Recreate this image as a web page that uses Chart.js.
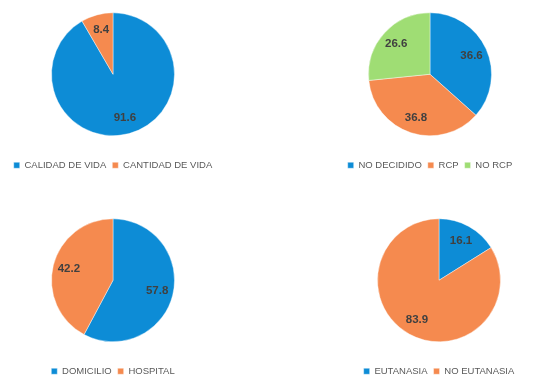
<!DOCTYPE html>
<html><head><meta charset="utf-8">
<script src="https://cdn.jsdelivr.net/npm/chart.js@4"></script>
<style>
html,body{margin:0;padding:0;background:#fff;width:537px;height:385px;overflow:hidden;position:relative}
.c{position:absolute;width:226px;height:186px}
</style></head><body>
<div class="c" style="left:0;top:-6px"><canvas id="c1"></canvas></div>
<div class="c" style="left:317px;top:-6px"><canvas id="c2"></canvas></div>
<div class="c" style="left:0;top:200px"><canvas id="c3"></canvas></div>
<div class="c" style="left:326px;top:200px"><canvas id="c4"></canvas></div>
<script>
const BLUE = '#0D8CD6', ORANGE = '#F58A4F', GREEN = '#9FDD74';

const labels1 = ['CALIDAD DE VIDA', 'CANTIDAD DE VIDA'];
const values1 = [91.6, 8.4];
const labels2 = ['NO DECIDIDO', 'RCP', 'NO RCP'];
const values2 = [36.6, 36.8, 26.6];
const labels3 = ['DOMICILIO', 'HOSPITAL'];
const values3 = [57.8, 42.2];
const labels4 = ['EUTANASIA', 'NO EUTANASIA'];
const values4 = [16.1, 83.9];

const sliceLabels = {
  id: 'sliceLabels',
  afterDatasetsDraw(chart) {
    const ctx = chart.ctx;
    const meta = chart.getDatasetMeta(0);
    const data = chart.data.datasets[0].data;
    ctx.save();
    ctx.font = 'bold 11.5px "Liberation Sans", Arial, sans-serif';
    ctx.fillStyle = '#404040';
    ctx.textAlign = 'center';
    ctx.textBaseline = 'middle';
    meta.data.forEach((arc, i) => {
      const p = arc.getProps(['x','y','startAngle','endAngle','outerRadius'], true);
      const a = (p.startAngle + p.endAngle) / 2;
      const r = p.outerRadius * 0.74;
      ctx.fillText(data[i].toFixed(1), p.x + Math.cos(a) * r, p.y + Math.sin(a) * r);
    });
    ctx.restore();
  }
};

function makePie(id, labels, values, colors) {
  new Chart(document.getElementById(id), {
    type: 'pie',
    data: { labels: labels, datasets: [{ data: values, backgroundColor: colors, borderColor: 'rgba(255,255,255,0.7)', borderWidth: 0.6, radius: 61.5 }] },
    options: {
      responsive: true, maintainAspectRatio: false, animation: false,
      layout: { padding: 0 },
      plugins: {
        tooltip: { enabled: false },
        legend: {
          position: 'bottom',
          labels: { boxWidth: 6, boxHeight: 6, padding: 6, color: '#595959',
            font: { size: 9.5, family: '"Liberation Sans", Arial, sans-serif' } }
        }
      }
    },
    plugins: [sliceLabels]
  });
}
makePie('c1', labels1, values1, [BLUE, ORANGE]);
makePie('c2', labels2, values2, [BLUE, ORANGE, GREEN]);
makePie('c3', labels3, values3, [BLUE, ORANGE]);
makePie('c4', labels4, values4, [BLUE, ORANGE]);
</script>
</body></html>
